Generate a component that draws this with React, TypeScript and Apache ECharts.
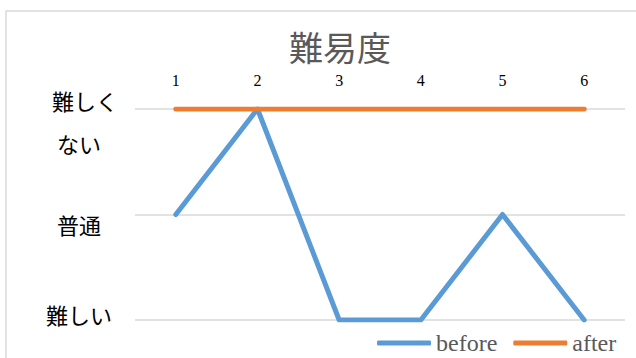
import React, { useEffect, useRef } from "react";
import * as echarts from "echarts";

const xCategories = ["1", "2", "3", "4", "5", "6"];
const yCategories = ["難しい", "普通", "難しくない"];
const beforeValues = ["普通", "難しくない", "難しい", "難しい", "普通", "難しい"];
const afterValues = ["難しくない", "難しくない", "難しくない", "難しくない", "難しくない", "難しくない"];
const titleText = "難易度";

export default function App() {
  const ref = useRef<HTMLDivElement>(null);
  useEffect(() => {
    if (!ref.current) return;
    const chart = echarts.init(ref.current, undefined, { renderer: "svg" });
    const serif = "'Liberation Serif', 'DejaVu Serif', serif";
    const jp = "'Noto Sans CJK JP', sans-serif";
    chart.setOption({
      animation: false,
      backgroundColor: "#ffffff",
      title: {
        text: titleText,
        left: 335,
        textAlign: "center",
        top: 24,
        textStyle: { fontFamily: jp, fontSize: 34, fontWeight: "normal", color: "#595959" },
      },
      graphic: [
        {
          type: "rect",
          shape: { x: 6, y: 11, width: 700, height: 420 },
          style: { fill: "none", stroke: "#d9d9d9", lineWidth: 1.5 },
          silent: true,
        },
      ],
      grid: { left: 135, right: 11, top: 109, bottom: 38, containLabel: false },
      legend: {
        left: 377,
        top: 331,
        padding: 0,
        itemWidth: 54,
        itemHeight: 5,
        itemGap: 16,
        icon: "roundRect",
        textStyle: { fontFamily: serif, fontSize: 24, color: "#595959", lineHeight: 24 },
        data: ["before", "after"],
      },
      xAxis: {
        type: "category",
        position: "top",
        data: xCategories,
        boundaryGap: true,
        axisLine: { show: false },
        axisTick: { show: false },
        splitLine: { show: false },
        axisLabel: { margin: 21, fontFamily: serif, fontSize: 16, color: "#000" },
      },
      yAxis: {
        type: "category",
        data: yCategories,
        boundaryGap: false,
        axisLine: { show: false },
        axisTick: { show: false },
        splitLine: { show: true, lineStyle: { color: "#d9d9d9", width: 1.5 } },
        axisLabel: {
          margin: 56,
          align: "center",
          fontFamily: jp,
          fontSize: 22,
          color: "#000",
          formatter: (v: string) => {
            if (v === "難しくない") return "{a|難しく}\n{b|ない}";
            if (v === "普通") return "{m|普通}";
            return "{d|難しい}";
          },
          rich: {
            a: { fontFamily: jp, fontSize: 22, color: "#000", lineHeight: 68, padding: [0, 0, 0, 12] },
            b: { fontFamily: jp, fontSize: 22, color: "#000", lineHeight: 18 },
            m: { fontFamily: jp, fontSize: 22, color: "#000", lineHeight: 24, padding: [18, 0, 0, 0] },
            d: { fontFamily: jp, fontSize: 22, color: "#000", lineHeight: 24, padding: [0, 0, 12, 0] },
          },
        },
      },
      series: [
        {
          name: "before",
          type: "line",
          data: beforeValues,
          symbol: "none",
          color: "#5B9BD5",
          lineStyle: { width: 5, color: "#5B9BD5", cap: "round", join: "round" },
        },
        {
          name: "after",
          type: "line",
          data: afterValues,
          symbol: "none",
          color: "#ED7D31",
          lineStyle: { width: 5, color: "#ED7D31", cap: "round", join: "round" },
        },
      ],
    });
    return () => chart.dispose();
  }, []);
  return (
    <div
      ref={ref}
      style={{ position: "fixed", left: 0, top: 0, width: 636, height: 358 }}
    />
  );
}
